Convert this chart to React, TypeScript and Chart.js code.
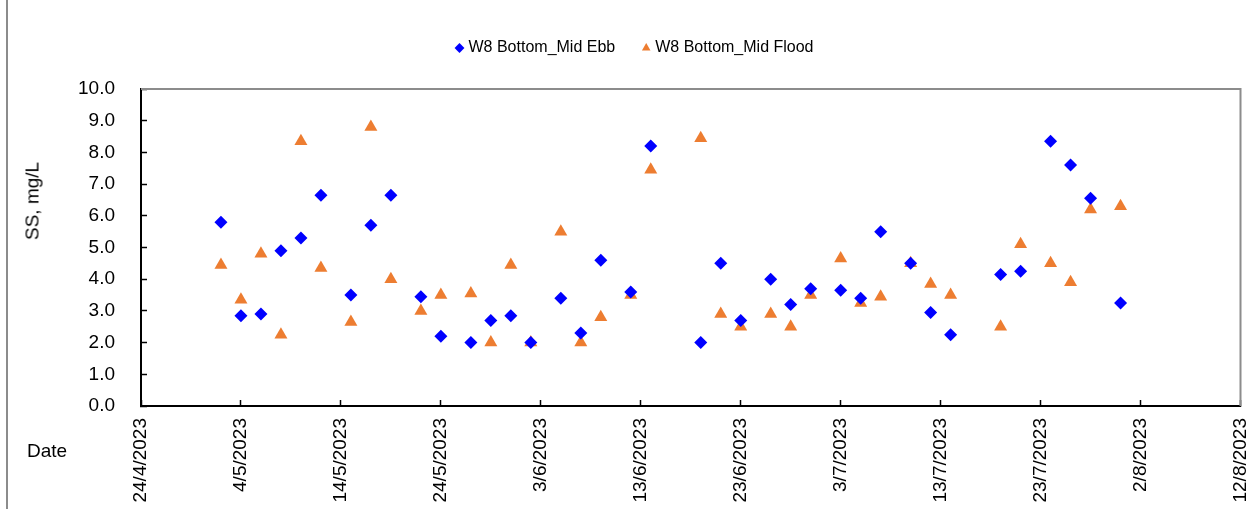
import React, { useEffect, useRef } from "react";
import Chart from "chart.js/auto";

const sampleDates = [
  "2023-05-02", "2023-05-04", "2023-05-06", "2023-05-08", "2023-05-10", "2023-05-12",
  "2023-05-15", "2023-05-17", "2023-05-19", "2023-05-22", "2023-05-24", "2023-05-27",
  "2023-05-29", "2023-05-31", "2023-06-02", "2023-06-05", "2023-06-07", "2023-06-09",
  "2023-06-12", "2023-06-14", "2023-06-19", "2023-06-21", "2023-06-23", "2023-06-26",
  "2023-06-28", "2023-06-30", "2023-07-03", "2023-07-05", "2023-07-07", "2023-07-10",
  "2023-07-12", "2023-07-14", "2023-07-19", "2023-07-21", "2023-07-24", "2023-07-26",
  "2023-07-28", "2023-07-31",
];

const ebbValues = [
  5.8, 2.85, 2.9, 4.9, 5.3, 6.65, 3.5, 5.7, 6.65, 3.45, 2.2, 2.0, 2.7, 2.85, 2.0,
  3.4, 2.3, 4.6, 3.6, 8.2, 2.0, 4.5, 2.7, 4.0, 3.2, 3.7, 3.65, 3.4, 5.5, 4.5,
  2.95, 2.25, 4.15, 4.25, 8.35, 7.6, 6.55, 3.25,
];

const floodValues = [
  4.45, 3.35, 4.8, 2.25, 8.35, 4.35, 2.65, 8.8, 4.0, 3.0, 3.5, 3.55, 2.0, 4.45, 2.0,
  5.5, 2.0, 2.8, 3.5, 7.45, 8.45, 2.9, 2.5, 2.9, 2.5, 3.5, 4.65, 3.25, 3.45, 4.5,
  3.85, 3.5, 2.5, 5.1, 4.5, 3.9, 6.2, 6.3,
];

const seriesNames = ["W8 Bottom_Mid Ebb", "W8 Bottom_Mid Flood"];
const axisStartDate = "2023-04-24";
const axisEndDate = "2023-08-12";
const tickStepDays = 10;
const yTitle = "SS, mg/L";
const xTitle = "Date";

const DAY = 86400000;
const toUtc = (s: string) => {
  const [y, m, d] = s.split("-").map(Number);
  return Date.UTC(y, m - 1, d);
};
const baseUtc = toUtc(axisStartDate);
const toDay = (s: string) => Math.round((toUtc(s) - baseUtc) / DAY);
const dayLabel = (v: number) => {
  const dt = new Date(baseUtc + v * DAY);
  return `${dt.getUTCDate()}/${dt.getUTCMonth() + 1}/${dt.getUTCFullYear()}`;
};

const FONT = "'Liberation Sans', Arial, sans-serif";

export default function App() {
  const ref = useRef<HTMLCanvasElement | null>(null);

  useEffect(() => {
    if (!ref.current) return;
    const frame = {
      id: "frame",
      beforeDatasetsDraw(chart: any) {
        const { ctx, chartArea: a } = chart;
        ctx.save();
        ctx.strokeStyle = "#8c8c8c";
        ctx.lineWidth = 2;
        ctx.beginPath();
        ctx.moveTo(a.left, a.top);
        ctx.lineTo(a.right, a.top);
        ctx.lineTo(a.right, a.bottom);
        ctx.stroke();
        ctx.restore();
      },
    };
    const chart = new Chart(ref.current, {
      type: "scatter",
      data: {
        datasets: [
          {
            label: seriesNames[0],
            data: sampleDates.map((d, i) => ({ x: toDay(d), y: ebbValues[i] })),
            pointStyle: "rectRot",
            pointRadius: 6.5,
            pointBorderWidth: 0,
            backgroundColor: "#0000FF",
            borderColor: "#0000FF",
            borderWidth: 0,
          },
          {
            label: seriesNames[1],
            data: sampleDates.map((d, i) => ({ x: toDay(d), y: floodValues[i] })),
            pointStyle: "triangle",
            pointRadius: 7.5,
            pointBorderWidth: 0,
            backgroundColor: "#ED7D31",
            borderColor: "#ED7D31",
            borderWidth: 0,
          },
        ],
      },
      options: {
        animation: false,
        responsive: true,
        maintainAspectRatio: false,
        layout: { padding: { top: 10, left: 31, right: 7, bottom: 0 } },
        plugins: {
          tooltip: { enabled: false },
          legend: {
            position: "top",
            labels: {
              usePointStyle: true,
              boxWidth: 2,
              boxHeight: 7,
              padding: 30,
              color: "#000",
              font: { family: FONT, size: 16 },
            },
          },
          title: {
            display: true,
            text: "",
            position: "top",
            weight: 500,
            font: { size: 10, lineHeight: 1.2 },
            padding: { top: 0, bottom: 11 },
          },
        },
        scales: {
          x: {
            type: "linear",
            min: 0,
            max: toDay(axisEndDate),
            afterFit(s: any) {
              s.height = 103;
              s.paddingLeft = 0;
              s.paddingRight = 0;
            },
            ticks: {
              stepSize: tickStepDays,
              autoSkip: false,
              minRotation: 90,
              maxRotation: 90,
              padding: 18,
              color: "#000",
              font: { family: FONT, size: 19 },
              callback: (v: any) => dayLabel(Number(v)),
            },
            grid: {
              drawOnChartArea: false,
              drawTicks: true,
              tickLength: -6,
              tickWidth: 1.5,
              tickColor: "#000",
            },
            border: { display: true, color: "#000", width: 2 },
          },
          y: {
            min: 0,
            max: 10,
            afterFit(s: any) {
              s.width = 110;
            },
            ticks: {
              stepSize: 1,
              padding: 32,
              color: "#000",
              font: { family: FONT, size: 19 },
              callback: (v: any) => Number(v).toFixed(1),
            },
            grid: {
              drawOnChartArea: false,
              drawTicks: true,
              tickLength: -6,
              tickWidth: 1.5,
              tickColor: "#000",
            },
            border: { display: true, color: "#000", width: 2 },
          },
        },
      },
      plugins: [frame],
    });
    return () => chart.destroy();
  }, []);

  return (
    <div style={{ position: "absolute", left: 0, top: 0, width: 1248, height: 509, background: "#fff", overflow: "hidden" }}>
      <canvas ref={ref} />
      <div style={{ position: "absolute", left: 6, top: 0, width: 2, height: 509, background: "#8c8c8c" }} />
      <div
        style={{
          position: "absolute",
          left: 32,
          top: 201,
          transform: "translate(-50%, -50%) rotate(-90deg)",
          fontFamily: FONT,
          fontSize: 19,
          color: "#000",
          whiteSpace: "nowrap",
          lineHeight: 1,
        }}
      >
        {yTitle}
      </div>
      <div
        style={{
          position: "absolute",
          left: 47,
          top: 450,
          transform: "translate(-50%, -50%)",
          fontFamily: FONT,
          fontSize: 19,
          color: "#000",
          whiteSpace: "nowrap",
          lineHeight: 1,
        }}
      >
        {xTitle}
      </div>
    </div>
  );
}
